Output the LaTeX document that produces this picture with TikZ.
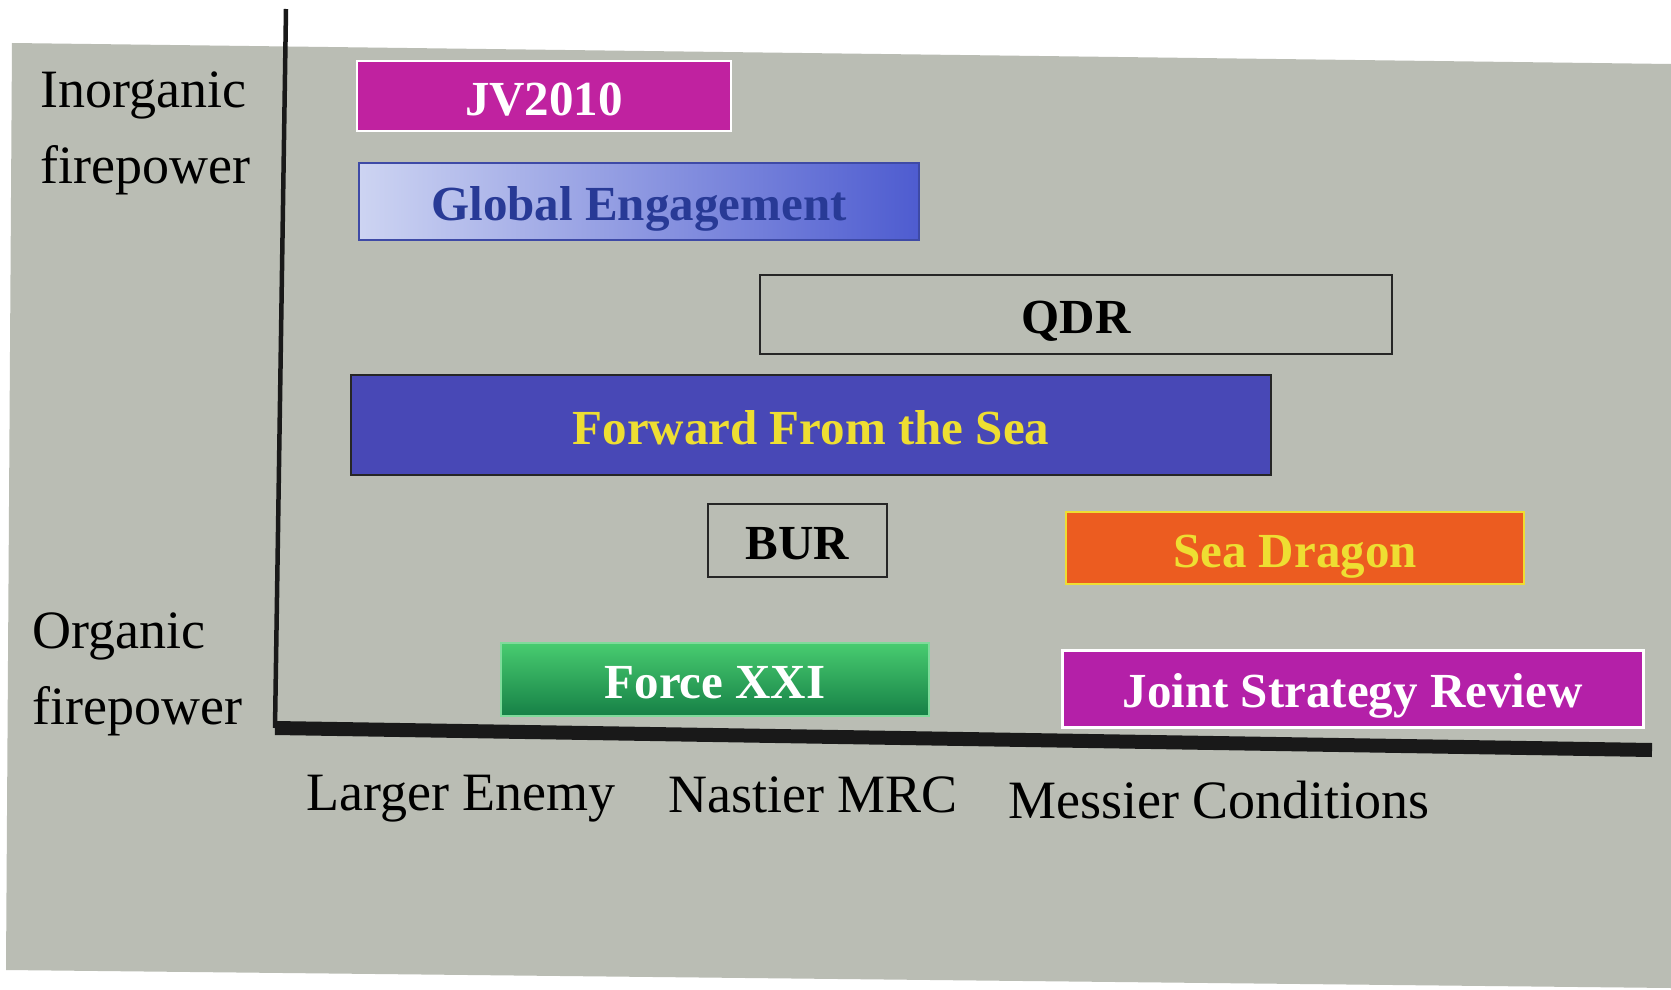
\documentclass[tikz,border=0pt]{standalone}
\usepackage{fontspec}
\setmainfont{Liberation Serif}

\definecolor{slidegray}{RGB}{186,189,180}
\definecolor{jvmagenta}{RGB}{192,34,160}
\definecolor{jsrmagenta}{RGB}{180,32,168}
\definecolor{geblueL}{RGB}{205,212,242}
\definecolor{geblueR}{RGB}{78,92,208}
\definecolor{getext}{RGB}{40,58,150}
\definecolor{fwdblue}{RGB}{72,72,182}
\definecolor{seaorange}{RGB}{236,92,32}
\definecolor{seayellow}{RGB}{238,222,50}
\definecolor{forcetop}{RGB}{72,204,112}
\definecolor{forcebot}{RGB}{22,128,70}

\begin{document}
\begin{tikzpicture}[x=1pt,y=-1pt,
    slab/.style={draw,line width=2pt,inner sep=0pt,
      text height=38pt,text depth=0pt,
      font=\fontsize{49}{52}\selectfont\bfseries},
    axlabel/.style={inner sep=0pt,align=left,
      font=\fontsize{54}{76}\selectfont}]

    % page and slide background
    \fill[white] (0,0) rectangle (1671,990);
    \useasboundingbox (0,0) rectangle (1671,990);
    \fill[slidegray] (12,43) -- (1671,64) -- (1671,988) -- (6,970) -- cycle;

    % axes
    \coordinate (ytop) at (286,9);
    \coordinate (orig) at (275,728);
    \coordinate (xend) at (1652,750);
    \draw[line width=4.5pt,black!90] (ytop) -- (orig);
    \draw[line width=14pt,black!90] (orig) -- (xend);

    % axis texts
    \node[axlabel,anchor=west] (inorg) at (40,133) {Inorganic\\firepower};
    \node[axlabel,anchor=west] (org) at (32,674) {Organic\\firepower};
    \node[axlabel,anchor=base west] (larger) at (306,810) {Larger Enemy};
    \node[axlabel,anchor=base west] (nastier) at (668,812) {Nastier MRC};
    \node[axlabel,anchor=base west] (messier) at (1008,818) {Messier Conditions};

    % studies
    \node[slab,draw=white,fill=jvmagenta,text=white,
      minimum width=374pt,minimum height=70pt] (jv) at (544,96) {JV2010};
    \node[slab,draw=geblueR!80!black,left color=geblueL,right color=geblueR,text=getext,
      minimum width=560pt,minimum height=77pt] (glob) at (639,201.5) {Global Engagement};
    \node[slab,draw=black!85,text=black,
      minimum width=632pt,minimum height=79pt] (qdr) at (1076,314.5) {QDR};
    \node[slab,draw=black!85,fill=fwdblue,text=seayellow,
      minimum width=920pt,minimum height=100pt] (fwd) at (811,425) {Forward From the Sea};
    \node[slab,draw=black!85,text=black,
      minimum width=179pt,minimum height=73pt] (bur) at (797.5,540.5) {BUR};
    \node[slab,draw=seayellow,fill=seaorange,text=seayellow,
      minimum width=458pt,minimum height=72pt] (sea) at (1295,548) {Sea Dragon};
    \node[slab,draw=forcetop!70!white,top color=forcetop,bottom color=forcebot,text=white,
      minimum width=428pt,minimum height=73pt] (force) at (715,679.5) {Force XXI};
    \node[slab,draw=white,line width=3pt,fill=jsrmagenta,text=white,
      minimum width=581pt,minimum height=77pt] (jsr) at (1352.5,688.5) {Joint Strategy Review};

\end{tikzpicture}
\end{document}
